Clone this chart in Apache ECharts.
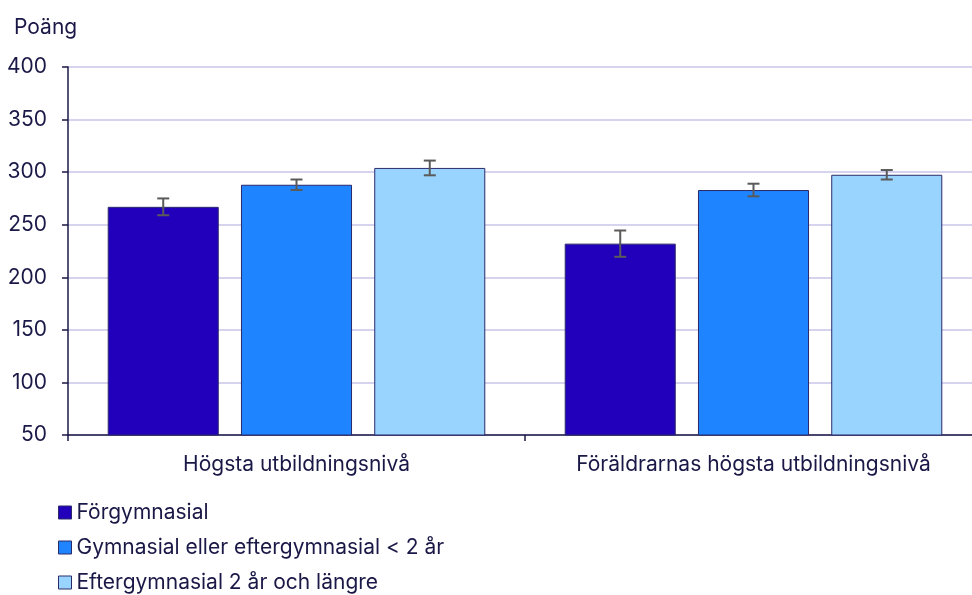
<!DOCTYPE html>
<html><head><meta charset="utf-8">
<script src="https://cdn.jsdelivr.net/npm/echarts@6/dist/echarts.min.js"></script>
<style>html,body{margin:0;padding:0;background:#fff;overflow:hidden}#c{width:990px;height:595px}</style>
</head><body><div id="c"></div>
<script>
const categories = ["Högsta utbildningsnivå", "Föräldrarnas högsta utbildningsnivå"];
const seriesNames = ["Förgymnasial", "Gymnasial eller eftergymnasial < 2 år", "Eftergymnasial 2 år och längre"];
const valuesForgymnasial = [267, 232];
const valuesGymnasial = [288, 283];
const valuesEftergymnasial = [304, 297.5];
const errForgymnasial = [8, 12.5];
const errGymnasial = [5, 6];
const errEftergymnasial = [7, 4.5];
const yTicks = [50, 100, 150, 200, 250, 300, 350, 400];

const colors = ["#2200BB", "#1E84FF", "#99D4FF"];
const allValues = [valuesForgymnasial, valuesGymnasial, valuesEftergymnasial];
const allErr = [errForgymnasial, errGymnasial, errEftergymnasial];
const textColor = "#1a1846";
const BW = 0.243, GAP = 0.2;
const FS = 21;

const series = [];
seriesNames.forEach((n, i) => {
  series.push({
    name: n, type: 'bar', data: allValues[i], barWidth: (BW*100)+'%', barGap: (GAP*100)+'%',
    itemStyle: {color: colors[i], borderColor: '#2b2a6b', borderWidth: 1},
    z: 2
  });
});
seriesNames.forEach((n, i) => {
  series.push({
    type: 'custom', z: 5, silent: true,
    data: allValues[i].map((v, k) => [k, v - allErr[i][k], v + allErr[i][k]]),
    renderItem: function (params, api) {
      const k = api.value(0);
      const catW = api.size([1, 0])[0];
      const off = (i - 1) * catW * BW * (1 + GAP);
      const lo = api.coord([k, api.value(1)]);
      const hi = api.coord([k, api.value(2)]);
      const x = lo[0] + off;
      const hw = 6;
      const st = {stroke: '#5a5a5a', lineWidth: 2, fill: null};
      return {type: 'group', children: [
        {type: 'line', shape: {x1: x, y1: hi[1], x2: x, y2: lo[1]}, style: st},
        {type: 'line', shape: {x1: x - hw, y1: hi[1], x2: x + hw, y2: hi[1]}, style: st},
        {type: 'line', shape: {x1: x - hw, y1: lo[1], x2: x + hw, y2: lo[1]}, style: st}
      ]};
    }
  });
});

const chart = echarts.init(document.getElementById('c'));
chart.setOption({
  animation: false,
  textStyle: {fontFamily: 'Inter', color: textColor},
  title: {text: 'Poäng', left: 9, top: 12, textStyle: {fontSize: FS, fontWeight: 'normal', color: textColor, fontFamily: 'Inter'}},
  grid: {left: 68, right: 8, top: 67, height: 368},
  legend: {
    orient: 'vertical', left: 58, top: 502, height: 150, padding: 0, itemWidth: 13, itemHeight: 13, itemGap: 14,
    icon: 'rect',
    textStyle: {fontSize: FS, color: textColor, fontFamily: 'Inter', padding: [0,0,0,0]},
    data: seriesNames.map((n, i) => ({name: n, itemStyle: {color: colors[i], borderColor: '#2b2a6b', borderWidth: 1}}))
  },
  xAxis: {
    type: 'category', data: categories,
    axisLine: {lineStyle: {color: textColor, width: 1.5}},
    axisTick: {show: true, length: 6, lineStyle: {color: textColor, width: 1.5}},
    axisLabel: {fontSize: FS, color: textColor, margin: 19, fontFamily: 'Inter', interval: 0}
  },
  yAxis: {
    type: 'value', min: yTicks[0], max: yTicks[yTicks.length-1], interval: 50,
    axisLine: {show: true, lineStyle: {color: textColor, width: 1.5}},
    axisTick: {show: true, length: 6, lineStyle: {color: textColor, width: 1.5}},
    axisLabel: {fontSize: FS, color: textColor, margin: 21, fontFamily: 'Inter'},
    splitLine: {lineStyle: {color: '#d5d3ee', width: 2}}
  },
  series: series
});
</script></body></html>
